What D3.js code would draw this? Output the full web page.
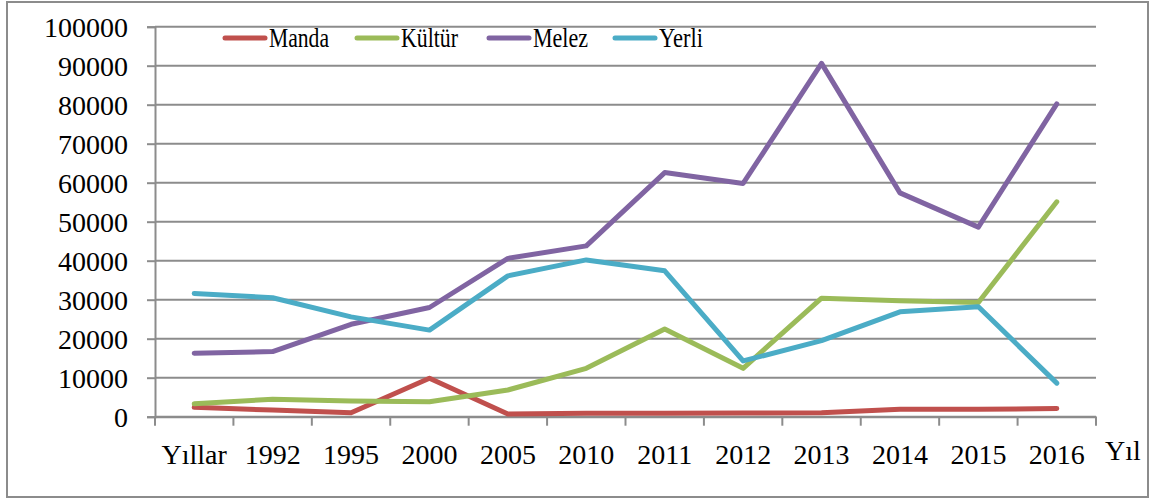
<!DOCTYPE html>
<html>
<head>
<meta charset="utf-8">
<script src="https://cdn.jsdelivr.net/npm/d3@7"></script>
<style>
  body { margin: 0; background: #fff; }
  svg text { font-family: "Liberation Serif", "Times New Roman", serif; fill: #000; }
</style>
</head>
<body>
<svg id="chart" width="1152" height="501"></svg>
<script>
// category labels along the x axis
var categories = ["Yıllar", "1992", "1995", "2000", "2005", "2010", "2011", "2012", "2013", "2014", "2015", "2016"];

// series values
var manda  = [2400, 1700, 1030, 9850, 700, 900, 900, 950, 1000, 1900, 1900, 2100];
var kultur = [3300, 4500, 4000, 3850, 6850, 12400, 22500, 12400, 30400, 29700, 29300, 55100];
var melez  = [16300, 16700, 23700, 28000, 40600, 43800, 62600, 59800, 90600, 57400, 48600, 80200];
var yerli  = [31600, 30500, 25600, 22200, 36100, 40200, 37400, 14300, 19500, 26900, 28200, 8600];

var seriesNames = ["Manda", "Kültür", "Melez", "Yerli"];
var seriesColors = ["#C0504D", "#9BBB59", "#8064A2", "#4BACC6"];
var yTicks = [0, 10000, 20000, 30000, 40000, 50000, 60000, 70000, 80000, 90000, 100000];

var allSeries = [manda, kultur, melez, yerli];

var serif = "'Liberation Serif', 'Times New Roman', serif";
var svg = d3.select("#chart");

// outer frame
svg.append("rect")
  .attr("x", 7).attr("y", 2)
  .attr("width", 1141).attr("height", 495)
  .attr("fill", "none")
  .attr("stroke", "#8c8c8c")
  .attr("stroke-width", 2);

var plotLeft = 155, plotRight = 1096, plotTop = 26.7, plotBottom = 416.7;

var x = d3.scaleBand().domain(categories).range([plotLeft, plotRight]).padding(0);
var y = d3.scaleLinear().domain([0, 100000]).range([plotBottom, plotTop]);

// horizontal gridlines
svg.append("g")
  .selectAll("line")
  .data(yTicks)
  .join("line")
  .attr("x1", plotLeft).attr("x2", plotRight)
  .attr("y1", d => y(d)).attr("y2", d => y(d))
  .attr("stroke", "#8c8c8c")
  .attr("stroke-width", 2);

// y axis
var yAxis = svg.append("g")
  .attr("transform", `translate(${plotLeft},0)`)
  .call(d3.axisLeft(y).tickValues(yTicks).tickSize(8).tickPadding(19).tickFormat(d3.format("d")))
  .attr("font-family", serif)
  .attr("font-size", 28);
yAxis.select(".domain").attr("stroke", "#8c8c8c").attr("stroke-width", 2);
yAxis.selectAll(".tick line").attr("stroke", "#8c8c8c").attr("stroke-width", 2);
yAxis.selectAll(".tick text")
  .style("font-size", "28px")
  .style("font-family", serif)
  .attr("dy", "0.34em");

// x axis: labels at category centres, ticks at category boundaries
var xAxis = svg.append("g")
  .attr("transform", `translate(0,${plotBottom})`)
  .call(d3.axisBottom(x).tickSize(0).tickPadding(27))
  .attr("font-family", serif)
  .attr("font-size", 28);
xAxis.select(".domain").attr("stroke", "#8c8c8c").attr("stroke-width", 2);
xAxis.selectAll(".tick text")
  .style("font-size", "28px")
  .style("font-family", serif);

var boundaries = categories.map(c => x(c)).concat([plotRight]);
svg.append("g")
  .selectAll("line")
  .data(boundaries)
  .join("line")
  .attr("x1", d => d).attr("x2", d => d)
  .attr("y1", plotBottom).attr("y2", plotBottom + 9)
  .attr("stroke", "#8c8c8c")
  .attr("stroke-width", 2);

svg.append("text")
  .attr("x", 1105).attr("y", 460)
  .style("font-size", "28px")
  .text("Yıl");

// lines
var line = d3.line()
  .x((d, i) => x(categories[i]) + x.bandwidth() / 2)
  .y(d => y(d));

svg.append("g")
  .selectAll("path")
  .data(allSeries)
  .join("path")
  .attr("d", d => line(d))
  .attr("fill", "none")
  .attr("stroke", (d, i) => seriesColors[i])
  .attr("stroke-width", 5)
  .attr("stroke-linejoin", "round")
  .attr("stroke-linecap", "round");

// legend
var legendX = [225, 357, 489, 615];
var legendW = [60, 57, 55, 44];
var legend = svg.append("g")
  .selectAll("g")
  .data(seriesNames)
  .join("g")
  .attr("transform", (d, i) => `translate(${legendX[i]},38)`);
legend.append("line")
  .attr("x1", 0).attr("x2", 40)
  .attr("y1", 0).attr("y2", 0)
  .attr("stroke", (d, i) => seriesColors[i])
  .attr("stroke-width", 5)
  .attr("stroke-linecap", "round");
legend.append("text")
  .attr("x", 44).attr("y", 9)
  .style("font-size", "28px")
  .attr("textLength", (d, i) => legendW[i])
  .attr("lengthAdjust", "spacingAndGlyphs")
  .text(d => d);
</script>
</body>
</html>
